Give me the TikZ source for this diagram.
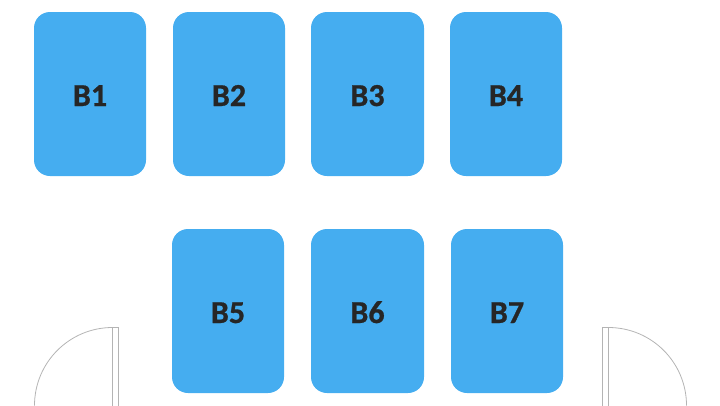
\documentclass[tikz,border=0pt]{standalone}
\usepackage{fontspec}
\setmainfont{Carlito}
\newfontfamily\benchfont[FakeBold=0.8]{Carlito Bold}
\definecolor{benchBlue}{HTML}{45ADF0}
\definecolor{benchText}{HTML}{262626}
\definecolor{doorGray}{HTML}{B4B4B4}
\tikzset{
  bench/.style={draw=none,fill=benchBlue,rounded corners=16pt,minimum width=112pt,minimum height=164pt,
    inner sep=0pt,text=benchText,text height=24pt,text depth=0pt,font=\fontsize{32}{32}\benchfont},
  door/.style={draw=doorGray,line width=0.8pt}
}

\begin{document}
\begin{tikzpicture}[x=1pt,y=-1pt]
  \useasboundingbox (0,0) rectangle (720,405);
  \clip (0,0) rectangle (720,405);
  \node[bench] (B-1-1) at (90,94) {B1};
  \node[bench] (B-1-2) at (229,94) {B2};
  \node[bench,minimum width=113pt] (B-1-3) at (367.5,94) {B3};
  \node[bench] (B-1-4) at (506,94) {B4};
  \node[bench] (B-2-1) at (228,311) {B5};
  \node[bench,minimum width=113pt] (B-2-2) at (367.5,311) {B6};
  \node[bench] (B-2-3) at (507,311) {B7};
  % doors
  \draw[door] (112.5,410) -- (112.5,327.5) -- (118.5,327.5) -- (118.5,410);
  \draw[door] (112.5,327.5) arc[start angle=-90,end angle=-180,radius=78];
  \draw[door] (608.5,410) -- (608.5,327.5) -- (602.5,327.5) -- (602.5,410);
  \draw[door] (608.5,327.5) arc[start angle=-90,end angle=0,radius=78];
\end{tikzpicture}
\end{document}
